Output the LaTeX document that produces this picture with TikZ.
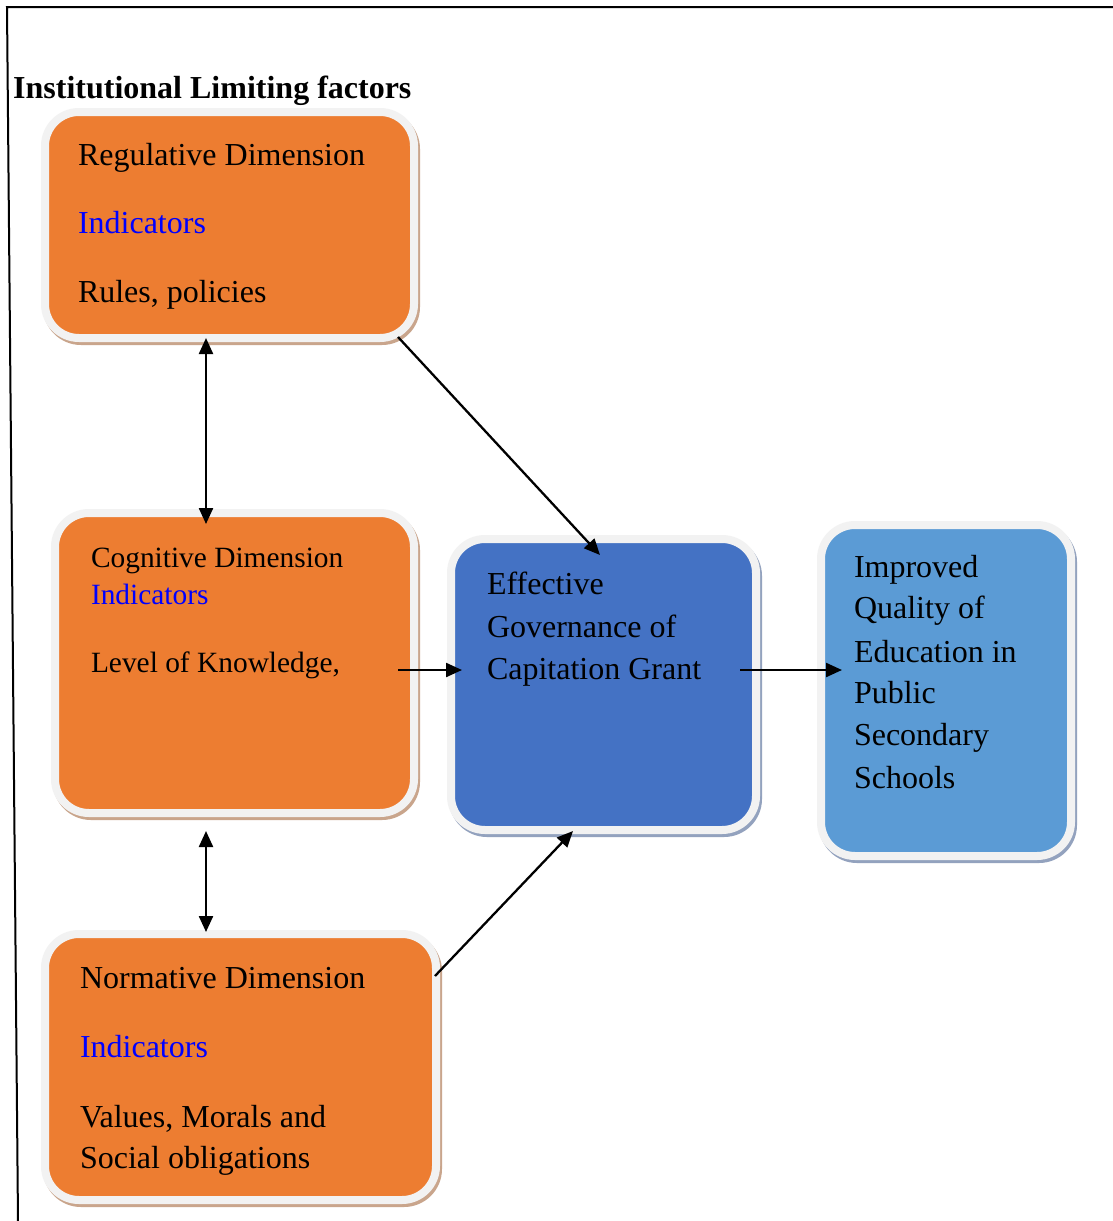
\documentclass[tikz,border=0pt]{standalone}
\usepackage{fontspec}
\setmainfont{Liberation Serif}
\usetikzlibrary{arrows.meta,calc}
\definecolor{orng}{HTML}{ED7D31}
\definecolor{dblue}{HTML}{4472C4}
\definecolor{lblue}{HTML}{5B9BD5}
\definecolor{ring}{HTML}{F2F2F2}
\definecolor{tanshadow}{HTML}{C9A58C}
\definecolor{blueshadow}{HTML}{93A2BE}
\definecolor{indblue}{HTML}{0000FF}
\begin{document}
\begin{tikzpicture}[x=1pt,y=-1pt,
  box/.style={rectangle, rounded corners=34pt, draw=ring, line width=8pt, outer sep=0pt, inner sep=0pt},
  oshadow/.style={preaction={draw=tanshadow, line width=8pt, transform canvas={xshift=2pt,yshift=-3pt}}},
  bshadow/.style={preaction={draw=blueshadow, line width=8pt, transform canvas={xshift=2pt,yshift=-3pt}}},
  txt/.style={anchor=base west, inner sep=0pt, outer sep=0pt, font=\fontsize{32}{38}\selectfont},
  stxt/.style={anchor=base west, inner sep=0pt, outer sep=0pt, font=\fontsize{29.4}{35}\selectfont},
  conn/.style={line width=2.3pt, -{Triangle[length=16pt,width=14pt]}},
  dconn/.style={line width=2.3pt, {Triangle[length=16pt,width=14pt]}-{Triangle[length=16pt,width=14pt]}},
]
\useasboundingbox (0,0) rectangle (1113,1221);
\fill[white] (0,0) rectangle (1113,1221);
% frame
\coordinate (ftl) at (7,7);
\coordinate (ftr) at (1113,7);
\coordinate (fbl) at (18,1221);
\draw[line width=2pt] (ftr) -- (ftl) -- (fbl);

\node[anchor=base west, inner sep=0pt, font=\fontsize{32}{38}\selectfont\bfseries] (title) at (13,98) {Institutional Limiting factors};

% boxes
\node[box, oshadow, fill=orng, minimum width=369pt, minimum height=226pt] (b1) at (229.5,225) {};
\node[box, oshadow, fill=orng, minimum width=359pt, minimum height=300pt] (b2) at (234.5,663) {};
\node[box, oshadow, fill=orng, minimum width=391pt, minimum height=266pt] (b3) at (240.5,1067) {};
\node[box, bshadow, fill=dblue, minimum width=305pt, minimum height=291pt] (gov) at (603.5,684.5) {};
\node[box, bshadow, fill=lblue, minimum width=250pt, minimum height=331pt] (out) at (946,690.5) {};

% texts box 1
\node[txt] (b1a) at (78,165) {Regulative Dimension};
\node[txt, text=indblue] (b1b) at (78,233) {Indicators};
\node[txt] (b1c) at (78,302) {Rules, policies};
% box 2
\node[stxt] (b2a) at (91,567) {Cognitive Dimension};
\node[stxt, text=indblue] (b2b) at (91,604) {Indicators};
\node[stxt] (b2c) at (91,672) {Level of Knowledge,};
% box 3
\node[txt] (b3a) at (80,988) {Normative Dimension};
\node[txt, text=indblue] (b3b) at (80,1057) {Indicators};
\node[txt] (b3c) at (80,1127) {Values, Morals and};
\node[txt] (b3d) at (80,1168) {Social obligations};
% governance
\node[txt] (g1) at (487,594) {Effective};
\node[txt] (g2) at (487,637) {Governance of};
\node[txt] (g3) at (487,679) {Capitation Grant};
% outcome
\node[txt] (o1) at (854,577) {Improved};
\node[txt] (o2) at (854,618) {Quality of};
\node[txt] (o3) at (854,662) {Education in};
\node[txt] (o4) at (854,703) {Public};
\node[txt] (o5) at (854,745) {Secondary};
\node[txt] (o6) at (854,788) {Schools};

% connectors
\draw[dconn] ($(b1.south)+(-23.5,0)$) -- ($(b2.north)+(-28.5,11)$);
\draw[dconn] ($(b2.south)+(-28.5,18)$) -- ($(b3.north)+(-34.5,-2)$);
\draw[conn] ($(b1.south east)+(-16,-1)$) -- ($(gov.north)+(-3.5,16)$);
\draw[conn] ($(b3.north east)+(-1,42)$) -- ($(gov.south)+(-30.5,1)$);
\draw[conn] ($(b2.east)+(-16,7)$) -- ($(gov.west)+(11,-14.5)$);
\draw[conn] ($(gov.east)+(-16,-14.5)$) -- ($(out.west)+(21,-20.5)$);
\end{tikzpicture}
\end{document}
